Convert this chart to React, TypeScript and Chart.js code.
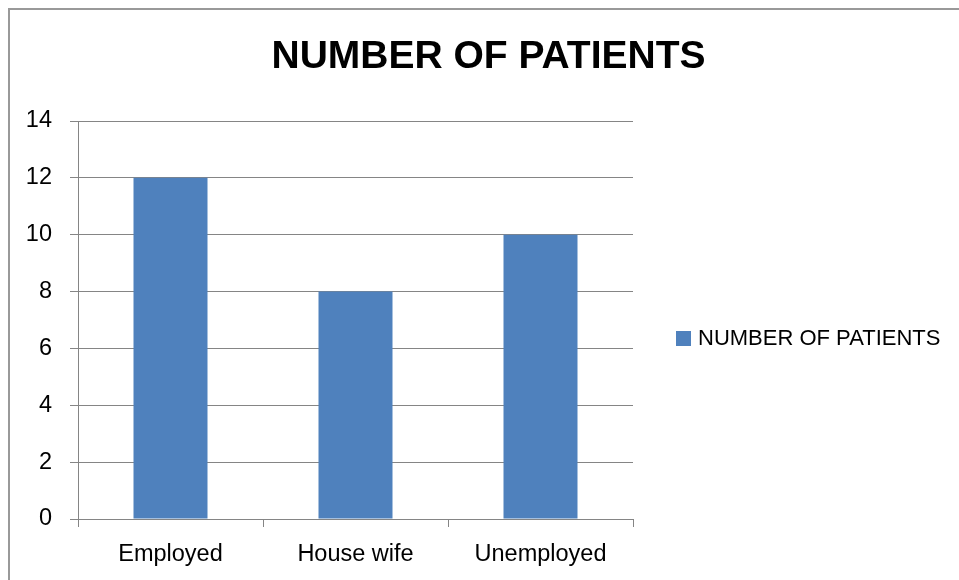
import React, { useEffect, useRef } from "react";
import { Chart, registerables } from "chart.js";

Chart.register(...registerables);

const categories = ["Employed", "House wife", "Unemployed"];
const seriesName = "NUMBER OF PATIENTS";
const patients = [12, 8, 10];
const chartTitle = "NUMBER OF PATIENTS";
const yMin = 0;
const yMax = 14;
const yStep = 2;

const FONT = "'Liberation Sans', Arial, sans-serif";

const sideLegend = {
  id: "sideLegend",
  afterDraw(chart: any) {
    const { ctx, chartArea } = chart;
    const x = chartArea.right + 43;
    const yc = (chartArea.top + chartArea.bottom) / 2 + 18.5;
    ctx.save();
    chart.data.datasets.forEach((ds: any, i: number) => {
      const y = yc + i * 30;
      ctx.fillStyle = ds.backgroundColor;
      ctx.fillRect(x, y - 7.5, 15, 15);
      ctx.fillStyle = "#000";
      ctx.font = `22px ${FONT}`;
      ctx.textBaseline = "middle";
      ctx.textAlign = "left";
      ctx.fillText(ds.label, x + 22, y + 0.5);
    });
    ctx.restore();
  },
};

export default function App() {
  const ref = useRef<HTMLCanvasElement | null>(null);

  useEffect(() => {
    if (!ref.current) return;
    const chart = new Chart(ref.current, {
      type: "bar",
      data: {
        labels: categories,
        datasets: [
          {
            label: seriesName,
            data: patients,
            backgroundColor: "#4F81BD",
            borderWidth: 0,
            barPercentage: 0.4,
            categoryPercentage: 1,
          },
        ],
      },
      plugins: [sideLegend],
      options: {
        animation: false,
        responsive: false,
        devicePixelRatio: 1,
        layout: { padding: { left: 9, right: 1, top: 0, bottom: 0 } },
        plugins: {
          title: {
            display: true,
            text: chartTitle,
            color: "#000",
            font: { family: FONT, size: 39, weight: "bold", lineHeight: 1.2 },
            padding: { top: 24, bottom: 40.2 },
          },
          legend: { display: false },
          tooltip: { enabled: false },
        },
        scales: {
          x: {
            afterFit: (s: any) => {
              s.height = 61;
            },
            grid: {
              display: true,
              drawOnChartArea: false,
              drawTicks: true,
              tickLength: 8,
              color: "#858585",
              offset: true,
            },
            border: { display: true, color: "#858585", width: 1 },
            ticks: {
              color: "#000",
              font: { family: FONT, size: 23.5 },
              padding: 13,
              maxRotation: 0,
            },
          },
          y: {
            min: yMin,
            max: yMax,
            afterFit: (s: any) => {
              s.width = 59;
            },
            grid: {
              color: "#858585",
              tickLength: 8,
              drawTicks: true,
            },
            border: { display: true, color: "#858585", width: 1 },
            ticks: {
              stepSize: yStep,
              color: "#000",
              font: { family: FONT, size: 23.5 },
              padding: 18,
            },
          },
          legendSpace: {
            type: "linear",
            position: "right",
            min: yMin,
            max: yMax,
            afterFit: (s: any) => {
              s.width = 325;
            },
            grid: { display: false, drawOnChartArea: false },
            border: { display: false },
            ticks: { display: false },
          },
        },
      },
    });
    return () => chart.destroy();
  }, []);

  return (
    <div
      style={{
        position: "fixed",
        left: 8,
        top: 8,
        width: 951,
        height: 572,
        boxSizing: "border-box",
        borderLeft: "2px solid #999",
        borderTop: "2px solid #999",
        background: "#fff",
      }}
    >
      <canvas ref={ref} width={949} height={570} style={{ display: "block" }} />
    </div>
  );
}
